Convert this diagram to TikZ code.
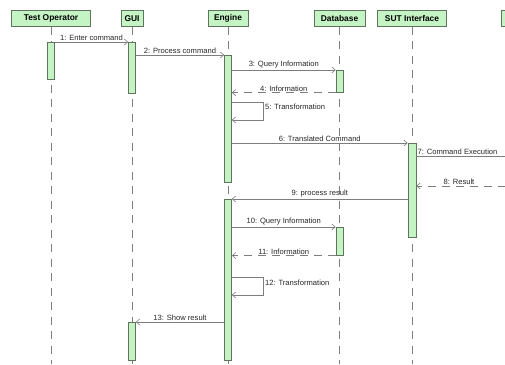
\documentclass[tikz,border=0pt]{standalone}
\usepackage{fontspec}
\setmainfont{Liberation Sans}
\usetikzlibrary{arrows.meta}
\definecolor{boxgreen}{RGB}{196,243,196}
\definecolor{boxedge}{RGB}{95,115,95}
\definecolor{linegray}{RGB}{125,125,125}
\definecolor{labeltext}{RGB}{40,40,40}

\begin{document}
\begin{tikzpicture}[
  x=1pt, y=-1pt,
  font=\fontsize{7.6}{9}\selectfont,
  head/.style={
    draw=boxedge,
    fill=boxgreen,
    line width=0.7pt,
    font=\bfseries\fontsize{8.4}{10}\selectfont,
    minimum height=16pt,
    inner sep=0pt,
    anchor=north
  },
  bar/.style={
    draw=boxedge,
    fill=boxgreen,
    line width=0.6pt,
    minimum width=7pt,
    inner sep=0pt,
    anchor=north
  },
  life/.style={
    draw=linegray,
    line width=0.6pt,
    dash pattern=on 8pt off 6.5pt
  },
  msg/.style={
    draw=linegray,
    line width=0.6pt,
    -{Straight Barb[length=3.5pt,width=6pt]}
  },
  reply/.style={
    msg,
    dash pattern=on 8pt off 6pt
  },
  lbl/.style={
    text=labeltext,
    inner sep=1.2pt,
    above
  }
]

\useasboundingbox (0,0) rectangle (505,364);
\fill[white] (0,0) rectangle (505,364);
\clip (0,0) rectangle (505,364);

% Headers
\node[head, minimum width=79pt] (op) at (51,10) {Test Operator};
\node[head, minimum width=22pt] (gui) at (132,10) {GUI};
\node[head, minimum width=40pt] (eng) at (228,10) {Engine};
\node[head, minimum width=51pt] (db) at (339.5,10) {Database};
\node[head, minimum width=69pt] (sut) at (412,10) {SUT Interface};
\node[head, minimum width=60pt, anchor=north west] (ext) at (501,10) {};

% Lifelines
\draw[life] (op.south) -- (op.south |- 0,364);
\draw[life] (gui.south) -- (gui.south |- 0,364);
\draw[life] (eng.south) -- (eng.south |- 0,364);
\draw[life] (db.south) -- (db.south |- 0,364);
\draw[life] (sut.south) -- (sut.south |- 0,364);

% Activation bars
\node[bar, minimum height=37pt] (opbar) at (op.south |- 0,42) {};
\node[bar, minimum height=51pt] (guibar1) at (gui.south |- 0,42) {};
\node[bar, minimum height=127pt] (engbar1) at (eng.south |- 0,55) {};
\node[bar, minimum height=22pt] (dbbar1) at (db.south |- 0,70) {};
\node[bar, minimum height=94pt, minimum width=8pt] (sutbar) at (sut.south |- 0,143) {};
\node[bar, minimum height=161pt] (engbar2) at (eng.south |- 0,199) {};
\node[bar, minimum height=28pt] (dbbar2) at (db.south |- 0,227) {};
\node[bar, minimum height=38pt] (guibar2) at (gui.south |- 0,322) {};

% Off-page ends
\coordinate (ext7) at (520,156);
\coordinate (ext8) at (520,186);

% Messages
\draw[msg] (opbar.north east) -- (guibar1.north west)
  node[lbl, midway] {1: Enter command};
\draw[msg] (guibar1.east |- 0,55) -- (engbar1.north west)
  node[lbl, midway] {2: Process command};
\draw[msg] (engbar1.east |- 0,70) -- (dbbar1.north west)
  node[lbl, midway] {3: Query Information};
\draw[reply] (dbbar1.south west) -- (engbar1.east |- dbbar1.south)
  node[lbl, midway] {4: Information};
\draw[msg] (engbar1.east |- 0,102) -- ++(31,0) |- (engbar1.east |- 0,120);
\node[text=labeltext, anchor=west, inner sep=0pt] (t5) at (265,107) {5: Transformation};
\draw[msg] (engbar1.east |- 0,143) -- (sutbar.north west)
  node[lbl, midway] {6: Translated Command};
\draw[msg] (sutbar.east |- ext7) -- (ext7);
\node[text=labeltext, anchor=south west, inner sep=1.2pt] (t7) at (sutbar.east |- ext7) {7: Command Execution};
\draw[reply] (ext8) -- (sutbar.east |- ext8);
\node[text=labeltext, anchor=south, inner sep=1.2pt] (t8) at (459,186) {8: Result};
\draw[msg] (sutbar.west |- 0,199) -- (engbar2.north east)
  node[lbl, midway] {9: process result};
\draw[msg] (engbar2.east |- 0,227) -- (dbbar2.north west)
  node[lbl, midway] {10: Query Information};
\draw[reply] (dbbar2.south west) -- (engbar2.east |- dbbar2.south)
  node[lbl, midway] {11: Information};
\draw[msg] (engbar2.east |- 0,277) -- ++(31,0) |- (engbar2.east |- 0,295);
\node[text=labeltext, anchor=west, inner sep=0pt] (t12) at (265,283) {12: Transformation};
\draw[msg] (engbar2.west |- 0,322) -- (guibar2.north east)
  node[lbl, midway] {13: Show result};

\end{tikzpicture}
\end{document}
